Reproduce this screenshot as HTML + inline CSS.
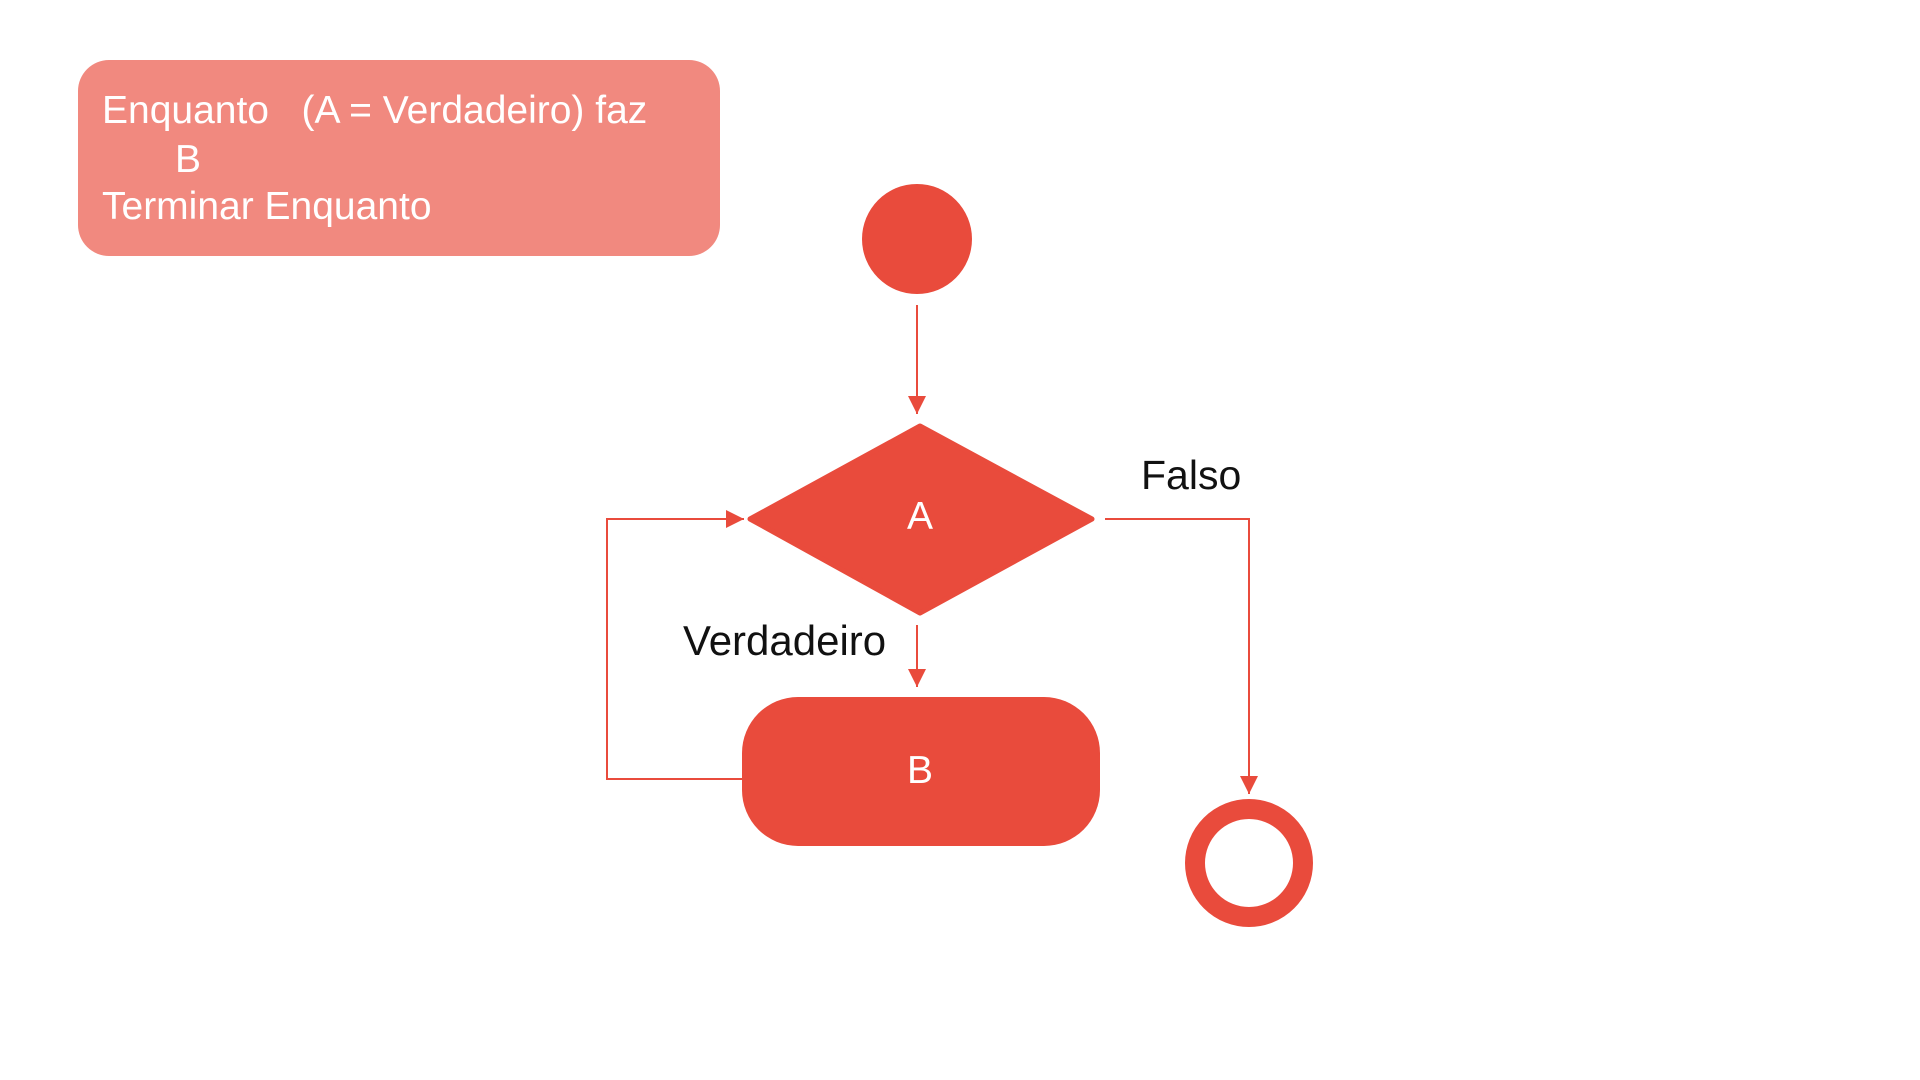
<!DOCTYPE html>
<html><head><style>body{margin:0;background:#fff}svg{display:block}</style></head><body>
<svg width="1920" height="1080" xmlns="http://www.w3.org/2000/svg" font-family="Liberation Sans, DejaVu Sans, sans-serif">
<defs>
<marker id="ah" viewBox="0 0 10 10" markerWidth="18" markerHeight="18" refX="10" refY="5" orient="auto" markerUnits="userSpaceOnUse"><path d="M0,0 L10,5 L0,10 Z" fill="#E94B3C"/></marker></defs>
<rect x="78" y="60" width="642" height="196" rx="31" fill="#F1897F"/>
<text x="102" y="123" font-size="39" fill="#fff">Enquanto&#160;&#160; (A = Verdadeiro) faz</text>
<text x="175" y="172" font-size="39" fill="#fff">B</text>
<text x="102" y="219" font-size="39" fill="#fff">Terminar Enquanto</text>
<g transform="translate(-4,-3)">
<circle cx="921" cy="242" r="55" fill="#E94B3C"/>
<line x1="921" y1="308" x2="921" y2="417" stroke="#E94B3C" stroke-width="2" marker-end="url(#ah)"/>
<path d="M924,429 L1096,522 L924,616 L754,522 Z" fill="#E94B3C" stroke="#E94B3C" stroke-width="5" stroke-linejoin="round"/>
<text x="924" y="532" font-size="39" fill="#fff" text-anchor="middle">A</text>
<text x="1145" y="492" font-size="41" fill="#111">Falso</text>
<polyline points="1109,522 1253,522 1253,797" fill="none" stroke="#E94B3C" stroke-width="2" marker-end="url(#ah)"/>
<circle cx="1253" cy="866" r="54" fill="none" stroke="#E94B3C" stroke-width="20"/>
<text x="687" y="658" font-size="42" fill="#111">Verdadeiro</text>
<line x1="921" y1="628" x2="921" y2="690" stroke="#E94B3C" stroke-width="2" marker-end="url(#ah)"/>
<rect x="746" y="700" width="358" height="149" rx="56" fill="#E94B3C"/>
<text x="924" y="786" font-size="39" fill="#fff" text-anchor="middle">B</text>
<polyline points="746,782 611,782 611,522 748,522" fill="none" stroke="#E94B3C" stroke-width="2" marker-end="url(#ah)"/>
</g>
</svg>
</body></html>
